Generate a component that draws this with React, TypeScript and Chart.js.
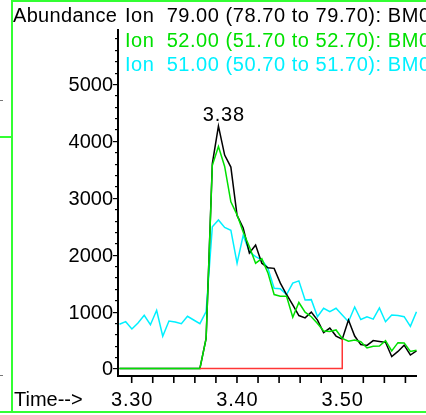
import React, { useEffect, useRef } from "react";
import { Chart, registerables } from "chart.js";

Chart.register(...registerables);

// Retention time (min) of each scan
const times = [
  3.2884, 3.2943, 3.3002, 3.306, 3.3119, 3.3178, 3.3237, 3.3295, 3.3354, 3.3413,
  3.3472, 3.353, 3.3589, 3.3648, 3.3707, 3.3766, 3.3824, 3.3883, 3.3942, 3.4001,
  3.4059, 3.4118, 3.4177, 3.4236, 3.4294, 3.4353, 3.4412, 3.4471, 3.453, 3.4588,
  3.4647, 3.4706, 3.4765, 3.4823, 3.4882, 3.4941, 3.5, 3.5059, 3.5118, 3.5176,
  3.5235, 3.5294, 3.5353, 3.5411, 3.547, 3.5529, 3.5588, 3.5647, 3.5705,
];

// Ion 79.00 (black)
const ion79 = [
  0, 0, 0, 0, 0, 0, 0, 0, 0, 0, 0, 0, 0, 0, 530, 3600, 4260, 3750, 3540, 2690,
  2470, 2030, 2170, 1850, 1770, 1760, 1500, 1300, 1120, 930, 890, 990, 850, 630,
  710, 570, 515, 852, 570, 420, 405, 490, 475, 460, 210, 300, 410, 237, 310,
];

// Ion 52.00 (green)
const ion52 = [
  0, 0, 0, 0, 0, 0, 0, 0, 0, 0, 0, 0, 0, 0, 530, 3570, 3900, 3550, 2930, 2700,
  2400, 2140, 1850, 1930, 1680, 1300, 1270, 1270, 900, 1160, 990, 910, 790, 660,
  650, 677, 530, 480, 500, 470, 360, 390, 395, 490, 310, 454, 450, 300, 320,
];

// Ion 51.00 (cyan)
const ion51 = [
  777, 823, 694, 800, 935, 770, 1023, 566, 835, 817, 787, 917, 852, 787, 1000,
  2490, 2610, 2480, 2430, 1850, 2340, 2050, 1965, 1910, 1760, 1410, 1400, 1300,
  1500, 1540, 1204, 1210, 910, 1058, 998, 1058, 940, 822, 1080, 860, 910, 868,
  1065, 822, 940, 930, 910, 740, 998,
];

// Integration baseline (red)
const baselineTimes = [3.3648, 3.5, 3.5];
const baselineValues = [0, 0, 515];

const yTickValues = [0, 1000, 2000, 3000, 4000, 5000];
const yTickLabels = ["0", "1000", "2000", "3000", "4000", "5000"];
const xTickValues = [3.3, 3.4, 3.5];
const xTickLabels = ["3.30", "3.40", "3.50"];
const legendLines = [
  "Ion  79.00 (78.70 to 79.70): BM0",
  "Ion  52.00 (51.70 to 52.70): BM0",
  "Ion  51.00 (50.70 to 51.70): BM0",
];
const peakLabel = "3.38";
const peakTime = 3.3824;
const peakValue = 4260;
const yAxisTitle = "Abundance";
const xAxisTitle = "Time-->";

const BLACK = "#000000";
const GREEN = "#00e000";
const CYAN = "#00f0ff";
const RED = "#ff3535";
const FRAME = "#33ff33";
const FONT = '20px "Liberation Sans", Arial, sans-serif';

const toPoints = (xs: number[], ys: number[]) => xs.map((x, i) => ({ x, y: ys[i] }));

export default function App() {
  const ref = useRef<HTMLCanvasElement | null>(null);

  useEffect(() => {
    const canvas = ref.current;
    if (!canvas) return;

    const overlay = {
      id: "overlay",
      afterDraw(chart: any) {
        const ctx = chart.ctx as any;
        const xs = chart.scales.x;
        const ys = chart.scales.y;
        const area = chart.chartArea;
        ctx.save();
        // frame
        ctx.fillStyle = FRAME;
        ctx.fillRect(11, 0, 2, 413);
        ctx.fillRect(11, 0, 415, 2);
        ctx.fillRect(0, 411, 426, 2);
        ctx.fillRect(0, 136, 12, 2);
        ctx.fillStyle = "#777";
        ctx.fillRect(0, 100, 3, 1);
        ctx.fillRect(0, 375, 3, 1);

        // axes
        ctx.fillStyle = BLACK;
        const left = Math.round(area.left);
        const bottom = Math.round(area.bottom);
        ctx.fillRect(left - 1, area.top, 2, bottom - area.top + 1);
        ctx.fillRect(left - 1, bottom - 1, area.right - left + 1, 2);

        // y ticks
        for (let v = 0; v <= ys.max; v += 200) {
          const py = Math.round(ys.getPixelForValue(v));
          const major = v % 1000 === 0;
          ctx.fillRect(left - (major ? 5 : 3), py, major ? 5 : 3, 1.2);
        }
        // x ticks
        for (let k = 0; k < 14; k++) {
          const t = 3.3 + k * 0.02;
          if (t > xs.max) break;
          const px = xs.getPixelForValue(t);
          ctx.fillRect(px - 0.8, bottom, 1.6, 7);
        }

        ctx.font = FONT;
        ctx.fillStyle = BLACK;
        ctx.textBaseline = "alphabetic";
        ctx.letterSpacing = "0px";
        ctx.textAlign = "right";
        yTickValues.forEach((v, i) => {
          ctx.fillText(yTickLabels[i], left - 5, ys.getPixelForValue(v) + 7);
        });
        ctx.textAlign = "left";
        ctx.fillText(xAxisTitle, 14, 406);
        ctx.letterSpacing = "0.33px";
        ctx.fillText(yAxisTitle, 13, 22);

        ctx.letterSpacing = "0.8px";
        ctx.textAlign = "center";
        xTickValues.forEach((v, i) => {
          ctx.fillText(xTickLabels[i], xs.getPixelForValue(v) + 0.4, 406);
        });

        ctx.textAlign = "left";
        ctx.letterSpacing = "0.55px";
        const colors = [BLACK, GREEN, CYAN];
        legendLines.forEach((s, i) => {
          ctx.fillStyle = colors[i];
          ctx.fillText(s, 125, 22 + i * 24.6);
        });

        ctx.fillStyle = BLACK;
        ctx.textAlign = "center";
        ctx.letterSpacing = "0.8px";
        ctx.fillText(peakLabel, xs.getPixelForValue(peakTime) + 5.4, ys.getPixelForValue(peakValue) - 5);
        ctx.letterSpacing = "0px";
        ctx.restore();
      },
    };

    const chart = new Chart(canvas, {
      type: "line",
      data: {
        datasets: [
          {
            data: toPoints(times, ion51),
            borderColor: CYAN,
            borderWidth: 1.5,
            pointRadius: 0,
            tension: 0,
            order: 4,
          },
          {
            data: toPoints(times, ion79),
            borderColor: BLACK,
            borderWidth: 1.5,
            pointRadius: 0,
            tension: 0,
            order: 3,
          },
          {
            data: toPoints(times, ion52),
            borderColor: GREEN,
            borderWidth: 1.5,
            pointRadius: 0,
            tension: 0,
            order: 2,
          },
          {
            data: toPoints(baselineTimes, baselineValues),
            borderColor: RED,
            borderWidth: 1.5,
            pointRadius: 0,
            tension: 0,
            order: 1,
          },
        ],
      },
      options: {
        responsive: false,
        animation: false,
        devicePixelRatio: 1,
        layout: { padding: { left: 118, right: 9, top: 29, bottom: 39 } },
        plugins: { legend: { display: false }, tooltip: { enabled: false }, title: { display: false } },
        events: [],
        scales: {
          x: { type: "linear", min: 3.287, max: 3.571, display: false },
          y: { type: "linear", min: -132, max: 5966, display: false },
        },
      },
      plugins: [overlay],
    });
    return () => chart.destroy();
  }, []);

  return (
    <div style={{ position: "fixed", left: 0, top: 0, width: 426, height: 415, background: "#fff" }}>
      <canvas ref={ref} width={426} height={415} style={{ width: 426, height: 415, display: "block" }} />
    </div>
  );
}
